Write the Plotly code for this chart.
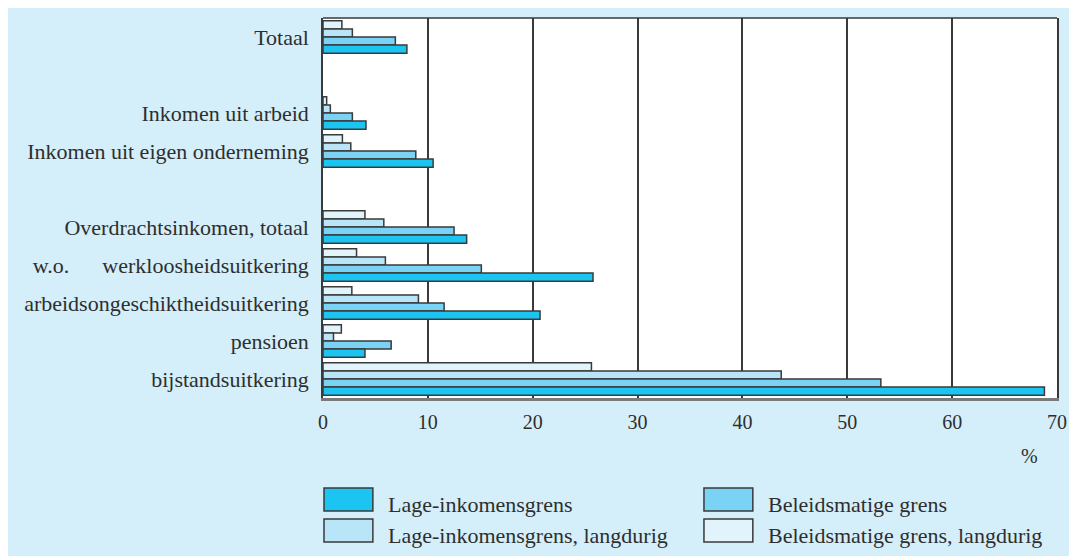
import plotly.graph_objects as go

# Categories (None = empty spacer row)
categories = [
    "Totaal",
    None,
    "Inkomen uit arbeid",
    "Inkomen uit eigen onderneming",
    None,
    "Overdrachtsinkomen, totaal",
    "w.o.\u00a0\u00a0\u00a0\u00a0\u00a0\u00a0werkloosheidsuitkering",
    "arbeidsongeschiktheidsuitkering",
    "pensioen",
    "bijstandsuitkering",
]

lage = [8.0, None, 4.1, 10.5, None, 13.7, 25.75, 20.7, 4.0, 68.8]
beleid = [6.9, None, 2.8, 8.85, None, 12.5, 15.1, 11.55, 6.5, 53.2]
lage_lang = [2.8, None, 0.7, 2.65, None, 5.8, 5.95, 9.1, 1.0, 43.7]
beleid_lang = [1.8, None, 0.35, 1.85, None, 4.0, 3.2, 2.75, 1.75, 25.6]

x_ticks = [0, 10, 20, 30, 40, 50, 60, 70]

names = ["Lage-inkomensgrens", "Beleidsmatige grens",
         "Lage-inkomensgrens, langdurig", "Beleidsmatige grens, langdurig"]
colors = ["#1cc4f2", "#7ad2f5", "#b9e5f9", "#e1f4fc"]

BG = "#d4eefa"
EDGE = "#3a3a3a"
TXT = "#2e2e2e"
FONT = "Liberation Serif"

# unique category keys for spacer rows
cat_keys = []
gap = 0
for c in categories:
    if c is None:
        gap += 1
        cat_keys.append("\u200b" * gap)
    else:
        cat_keys.append(c)

fig = go.Figure()
series = [(names[3], beleid_lang, colors[3]),
          (names[2], lage_lang, colors[2]),
          (names[1], beleid, colors[1]),
          (names[0], lage, colors[0])]
for name, vals, col in series:
    fig.add_trace(go.Bar(
        y=cat_keys, x=vals, name=name, orientation="h",
        marker=dict(color=col, line=dict(color=EDGE, width=1.5)),
        showlegend=False,
    ))

# page body has an 8px margin; figure fills the rest of the window
OX, OY = 8, 8
W, H = 1077 - OX, 556 - OY
L, R, T, B = 323 - OX, 1077 - 1059, 18 - OY, 556 - 398
pw, ph = W - L - R, H - T - B


def px(x):  # window pixel -> paper
    return (x - OX - L) / pw


def py(y):
    return (H - B - (y - OY)) / ph


fig.update_layout(
    width=W, height=H,
    margin=dict(l=L, r=R, t=T, b=B),
    paper_bgcolor=BG, plot_bgcolor="white",
    barmode="group", bargap=0.15, bargroupgap=0,
    font=dict(family=FONT, color=TXT, size=20),
    xaxis=dict(range=[0, 70], tickvals=x_ticks, ticktext=[str(v) for v in x_ticks],
               showgrid=True, gridcolor=EDGE, gridwidth=1.5,
               showline=True, linecolor="#7a7a7a", linewidth=3,
               zeroline=False, ticks="", ticklabelstandoff=4,
               tickfont=dict(size=20, family=FONT, color=TXT), fixedrange=True),
    yaxis=dict(type="category", categoryorder="array", categoryarray=cat_keys,
               autorange="reversed",
               tickmode="array", tickvals=[c for c in categories if c],
               ticktext=[c for c in categories if c],
               showline=True, linecolor=EDGE, linewidth=1.5, mirror=True,
               showgrid=False, ticks="", ticklabelstandoff=8,
               tickfont=dict(size=22, family=FONT, color=TXT), fixedrange=True),
)

shapes = [
    # top border of plot
    dict(type="line", xref="paper", yref="paper", x0=0, x1=1, y0=1, y1=1,
         line=dict(color=EDGE, width=1.5)),
]
annotations = [
    dict(text="%", xref="paper", yref="paper", x=px(1031), y=py(456),
         xanchor="center", yanchor="middle",
         showarrow=False, font=dict(size=20, family=FONT, color=TXT)),
]

legend_items = [
    (names[0], colors[0], 324, 488),
    (names[2], colors[2], 324, 519),
    (names[1], colors[1], 705, 488),
    (names[3], colors[3], 705, 519),
]
for name, col, x0, y0 in legend_items:
    shapes.append(dict(type="rect", xref="paper", yref="paper",
                       x0=px(x0), x1=px(x0 + 49), y0=py(y0 + 23), y1=py(y0),
                       fillcolor=col, line=dict(color=EDGE, width=1.5)))
    annotations.append(dict(text=name, xref="paper", yref="paper",
                            x=px(x0 + 62), y=py(y0 + 16), xanchor="left", yanchor="middle",
                            showarrow=False, font=dict(size=22, family=FONT, color=TXT)))

fig.update_layout(shapes=shapes, annotations=annotations)

fig.write_html("out.html")
